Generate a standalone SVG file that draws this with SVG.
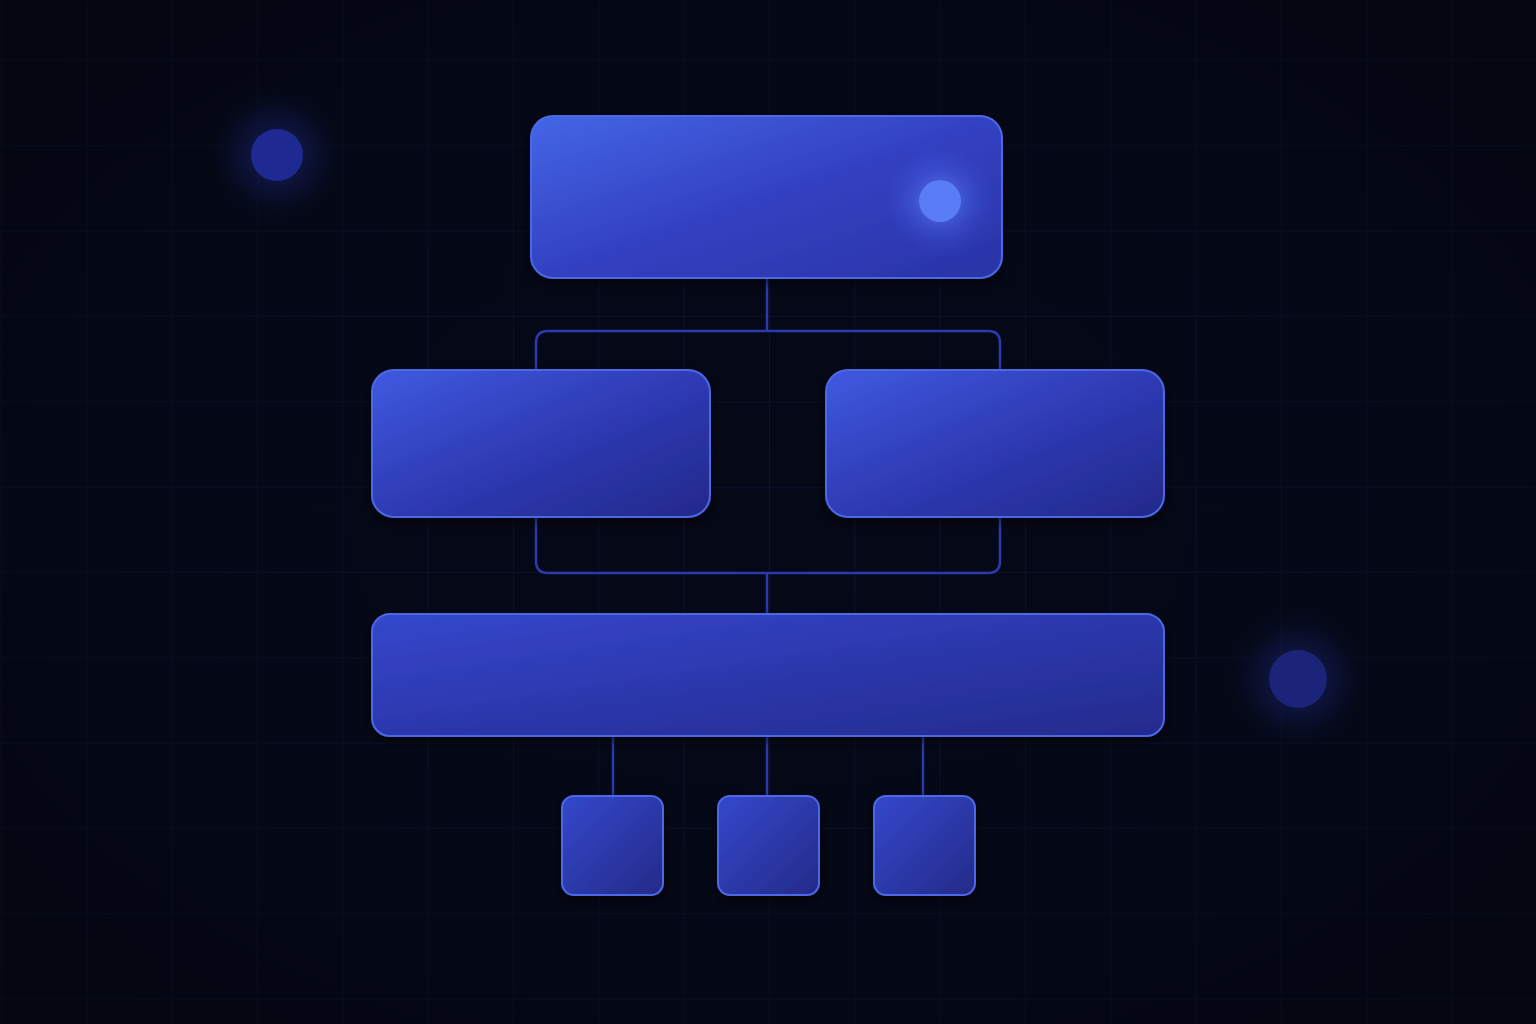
<svg xmlns="http://www.w3.org/2000/svg" width="1536" height="1024" viewBox="0 0 1536 1024">
<defs>
<pattern id="grid" x="1" y="60" width="85.33" height="85.33" patternUnits="userSpaceOnUse">
<path d="M0 0 H85.33 M0 0 V85.33" fill="none" stroke="#111a3c" stroke-width="1.2"/>
</pattern>
<radialGradient id="vign" cx="50%" cy="50%" r="70%">
<stop offset="0" stop-color="#060a1e" stop-opacity="0"/>
<stop offset="1" stop-color="#03050d" stop-opacity="0.6"/>
</radialGradient>
<linearGradient id="gTop" x1="0" y1="0" x2="1" y2="1">
<stop offset="0" stop-color="#4466e6"/>
<stop offset="0.5" stop-color="#3341c2"/>
<stop offset="1" stop-color="#2a33a6"/>
</linearGradient>
<linearGradient id="gMid" x1="0" y1="0" x2="1" y2="1">
<stop offset="0" stop-color="#3f5ae0"/>
<stop offset="0.55" stop-color="#2d38b0"/>
<stop offset="1" stop-color="#23298a"/>
</linearGradient>
<linearGradient id="gWide" x1="0" y1="0" x2="1" y2="1">
<stop offset="0" stop-color="#3448cc"/>
<stop offset="0.5" stop-color="#2c37ac"/>
<stop offset="1" stop-color="#242b8c"/>
</linearGradient>
<linearGradient id="gSmall" x1="0" y1="0" x2="1" y2="1">
<stop offset="0" stop-color="#3448cc"/>
<stop offset="1" stop-color="#242a88"/>
</linearGradient>
<radialGradient id="orbHalo">
<stop offset="0" stop-color="#2535a8" stop-opacity="0.5"/>
<stop offset="0.55" stop-color="#18226e" stop-opacity="0.3"/>
<stop offset="1" stop-color="#0a1030" stop-opacity="0"/>
</radialGradient>
<radialGradient id="hiHalo">
<stop offset="0" stop-color="#6a8cff" stop-opacity="0.8"/>
<stop offset="0.5" stop-color="#4f70f0" stop-opacity="0.35"/>
<stop offset="1" stop-color="#3a50e0" stop-opacity="0"/>
</radialGradient>
<filter id="shadow" x="-10%" y="-10%" width="120%" height="130%">
<feDropShadow dx="0" dy="4" stdDeviation="6" flood-color="#000000" flood-opacity="0.6"/>
</filter>
</defs>
<style>
.node{stroke:#4b68e6;stroke-width:2;filter:url(#shadow)}
.conn{fill:none;stroke:#2b3aae;stroke-width:2.5}
</style>
<rect width="1536" height="1024" fill="#050816"/>
<rect width="1536" height="1024" fill="url(#grid)"/>
<rect width="1536" height="1024" fill="url(#vign)"/>

<g id="orbs">
<circle cx="277" cy="155" r="70" fill="url(#orbHalo)"/>
<circle cx="277" cy="155" r="26" fill="#1e2a92"/>
<circle cx="1298" cy="679" r="72" fill="url(#orbHalo)"/>
<circle cx="1298" cy="679" r="29" fill="#1b2478"/>
</g>

<g id="connectors">
<path class="conn" d="M767 279 V331"/>
<path class="conn" d="M536 370 V343 Q536 331 548 331 H988 Q1000 331 1000 343 V370"/>
<path class="conn" d="M536 517 V561 Q536 573 548 573 H988 Q1000 573 1000 561 V517"/>
<path class="conn" d="M767 573 V613"/>
<path class="conn" d="M613 736 V795"/>
<path class="conn" d="M767 736 V795"/>
<path class="conn" d="M923 736 V795"/>
</g>

<g id="node-top">
<rect class="node" x="531" y="116" width="471" height="162" rx="22" fill="url(#gTop)"/>
<circle cx="940" cy="201" r="55" fill="url(#hiHalo)"/>
<circle cx="940" cy="201" r="21" fill="#5a7cf6"/>
</g>
<g id="node-left">
<rect class="node" x="372" y="370" width="338" height="147" rx="22" fill="url(#gMid)"/>
</g>
<g id="node-right">
<rect class="node" x="826" y="370" width="338" height="147" rx="22" fill="url(#gMid)"/>
</g>
<g id="node-wide">
<rect class="node" x="372" y="614" width="792" height="122" rx="18" fill="url(#gWide)"/>
</g>
<g id="node-s1">
<rect class="node" x="562" y="796" width="101" height="99" rx="12" fill="url(#gSmall)"/>
</g>
<g id="node-s2">
<rect class="node" x="718" y="796" width="101" height="99" rx="12" fill="url(#gSmall)"/>
</g>
<g id="node-s3">
<rect class="node" x="874" y="796" width="101" height="99" rx="12" fill="url(#gSmall)"/>
</g>
</svg>
